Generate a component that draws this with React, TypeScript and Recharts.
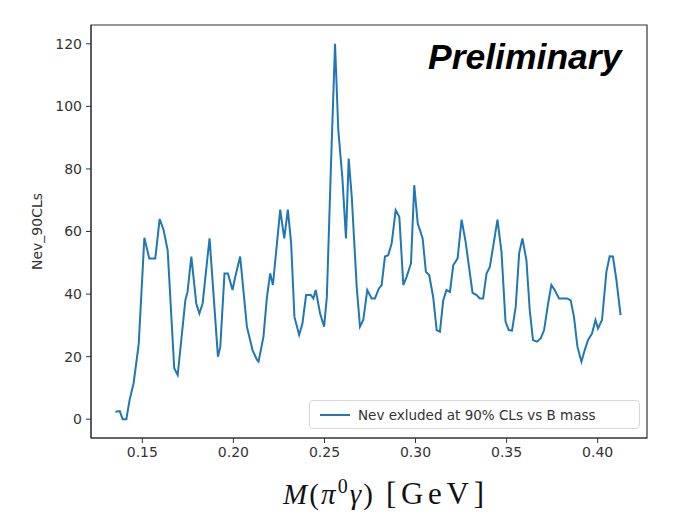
import React from 'react';
import { LineChart, Line, XAxis, YAxis, Legend, ReferenceArea } from 'recharts';

// B mass scan points (GeV) and excluded event counts at 90% CLs
const mass = [
  0.1352, 0.1376, 0.1392, 0.1412, 0.143, 0.1452, 0.148, 0.1511, 0.1538, 0.1571,
  0.1595, 0.1617, 0.1639, 0.1675, 0.1694, 0.1736, 0.1748, 0.1769, 0.1796, 0.1813,
  0.1831, 0.1855, 0.1869, 0.1915, 0.1928, 0.1951, 0.197, 0.1995, 0.201, 0.2037,
  0.2074, 0.2105, 0.2129, 0.2138, 0.2165, 0.2184, 0.2202, 0.2217, 0.2257, 0.2279,
  0.2299, 0.2317, 0.2335, 0.2361, 0.2379, 0.2399, 0.2425, 0.2439, 0.2452, 0.2476,
  0.2498, 0.2513, 0.2536, 0.2558, 0.2576, 0.2598, 0.2618, 0.2633, 0.265, 0.2677,
  0.2695, 0.2713, 0.2735, 0.2759, 0.2777, 0.2799, 0.2814, 0.2832, 0.285, 0.2869,
  0.2891, 0.2911, 0.2933, 0.2951, 0.2975, 0.2993, 0.3012, 0.3039, 0.3057, 0.3075,
  0.3097, 0.3116, 0.3134, 0.3152, 0.317, 0.3189, 0.3207, 0.3231, 0.3253, 0.3275,
  0.3313, 0.3335, 0.3353, 0.3371, 0.339, 0.3408, 0.3426, 0.345, 0.3472, 0.3494,
  0.3512, 0.353, 0.355, 0.3569, 0.3587, 0.3609, 0.3627, 0.3645, 0.3667, 0.3688,
  0.3706, 0.3728, 0.3746, 0.3764, 0.3788, 0.381, 0.3832, 0.3852, 0.387, 0.3889,
  0.3911, 0.3929, 0.3947, 0.3969, 0.3988, 0.4002, 0.4024, 0.4048, 0.4066, 0.4084,
  0.4103, 0.4126,
];
const nev = [
  2.4, 2.6, 0, 0, 6.2, 11.5, 24, 58, 51.4, 51.4,
  64, 60.4, 54, 16.3, 14.1, 38, 40.7, 52, 37, 33.8,
  37, 50.3, 57.8, 20, 23.2, 46.6, 46.6, 41.3, 45.5, 52,
  29.6, 22.1, 19, 18.4, 26.4, 39, 46.6, 42.9, 67, 57.8,
  67, 56.2, 32.7, 26.9, 30.6, 39.7, 39.7, 38.6, 41.3, 33.8,
  29.6, 39.1, 81.7, 120, 92.3, 77.4, 57.8, 83.3, 71, 42.3,
  29.6, 31.7, 41.3, 38.6, 38.6, 41.8, 42.9, 52, 52.4, 56.2,
  66.8, 64.7, 42.9, 45.5, 49.8, 74.8, 62.6, 57.8, 47.1, 46.1,
  39, 28.5, 28, 38, 41.3, 40.7, 49.2, 51.4, 63.8, 56.7,
  40.4, 39.7, 38.6, 38.6, 46.6, 48.7, 55.1, 63.8, 53.5, 31.2,
  28.5, 28.3, 35.9, 53, 57.8, 50.8, 34.9, 25.3, 24.8, 25.9,
  28.5, 37, 42.9, 41.3, 38.6, 38.6, 38.6, 38, 32.7, 23.2,
  18.4, 22.1, 25.3, 27.4, 31.7, 29, 31.7, 47.1, 52.1, 52,
  44.5, 33.3,
];
const xTicks = [0.15, 0.2, 0.25, 0.3, 0.35, 0.4];
const yTicks = [0, 20, 40, 60, 80, 100, 120];

const data = mass.map((m, i) => ({ m, nev: nev[i] }));

const X_DOMAIN: [number, number] = [0.1218, 0.4271];
const Y_DOMAIN: [number, number] = [-6, 126];
const tickStyle = { fontSize: 14, fill: '#333', fontFamily: 'DejaVu Sans' };

const LegendBox = () => (
  <div
    style={{
      border: '1px solid #d8d8d8',
      borderRadius: 4,
      background: 'rgba(255,255,255,0.8)',
      height: 29,
      width: 331,
      display: 'flex',
      alignItems: 'center',
      fontFamily: 'DejaVu Sans',
      fontSize: 13.5,
      color: '#333',
      boxSizing: 'border-box',
    }}
  >
    <span style={{ display: 'inline-block', width: 30, height: 2, background: '#1f77b4', margin: '0 8px 0 10px' }} />
    Nev exluded at 90% CLs vs B mass
  </div>
);

// axis title in a serif font, spread to the width of the slide's math font
const XLabel = () => (
  <g fontFamily="Liberation Serif" fill="#111">
    <text x={283} y={504} fontSize={29} textLength={90} lengthAdjust="spacing">
      <tspan fontStyle="italic">M</tspan>
      <tspan>(</tspan>
      <tspan fontStyle="italic">π</tspan>
      <tspan dy={-11} fontSize={20}>0</tspan>
      <tspan dy={11} fontStyle="italic">γ</tspan>
      <tspan>)</tspan>
    </text>
    <text x={386} y={504} fontSize={31} textLength={98} lengthAdjust="spacing">
      [GeV]
    </text>
  </g>
);

export default function App() {
  return (
    <div style={{ position: 'absolute', left: 0, top: 0, width: 685, height: 517, background: '#fff' }}>
      <LineChart width={685} height={517} data={data} margin={{ top: 25, right: 38, bottom: 49, left: 31 }}>
        <XAxis
          dataKey="m"
          type="number"
          domain={X_DOMAIN}
          ticks={xTicks}
          tickFormatter={(v: number) => v.toFixed(2)}
          tick={tickStyle}
          tickSize={5}
          tickMargin={4}
          height={30}
          stroke="#333"
          label={{ content: () => <XLabel /> }}
        />
        <YAxis
          type="number"
          domain={Y_DOMAIN}
          ticks={yTicks}
          tick={tickStyle}
          tickSize={5}
          tickMargin={4}
          width={60}
          stroke="#333"
          label={{
            value: 'Nev_90CLs',
            angle: -90,
            position: 'insideLeft',
            dx: 1,
            style: { fontSize: 14, fill: '#333', fontFamily: 'DejaVu Sans', textAnchor: 'middle' },
          }}
        />
        <ReferenceArea
          x1={X_DOMAIN[0]}
          x2={X_DOMAIN[1]}
          y1={Y_DOMAIN[0]}
          y2={Y_DOMAIN[1]}
          fill="none"
          stroke="#333"
          strokeWidth={1.2}
          ifOverflow="visible"
        />
        <Line
          type="linear"
          dataKey="nev"
          stroke="#1f77b4"
          strokeWidth={2}
          dot={false}
          isAnimationActive={false}
        />
        <Legend
          layout="vertical"
          align="center"
          verticalAlign="middle"
          content={() => <LegendBox />}
          wrapperStyle={{ left: 309, top: 400, width: 331, height: 29 }}
        />
      </LineChart>
      <div
        style={{
          position: 'absolute',
          left: 428,
          top: 37,
          fontFamily: 'Liberation Sans',
          fontWeight: 'bold',
          fontStyle: 'italic',
          fontSize: 35.5,
          color: '#000',
          lineHeight: '40px',
        }}
      >
        Preliminary
      </div>
    </div>
  );
}
